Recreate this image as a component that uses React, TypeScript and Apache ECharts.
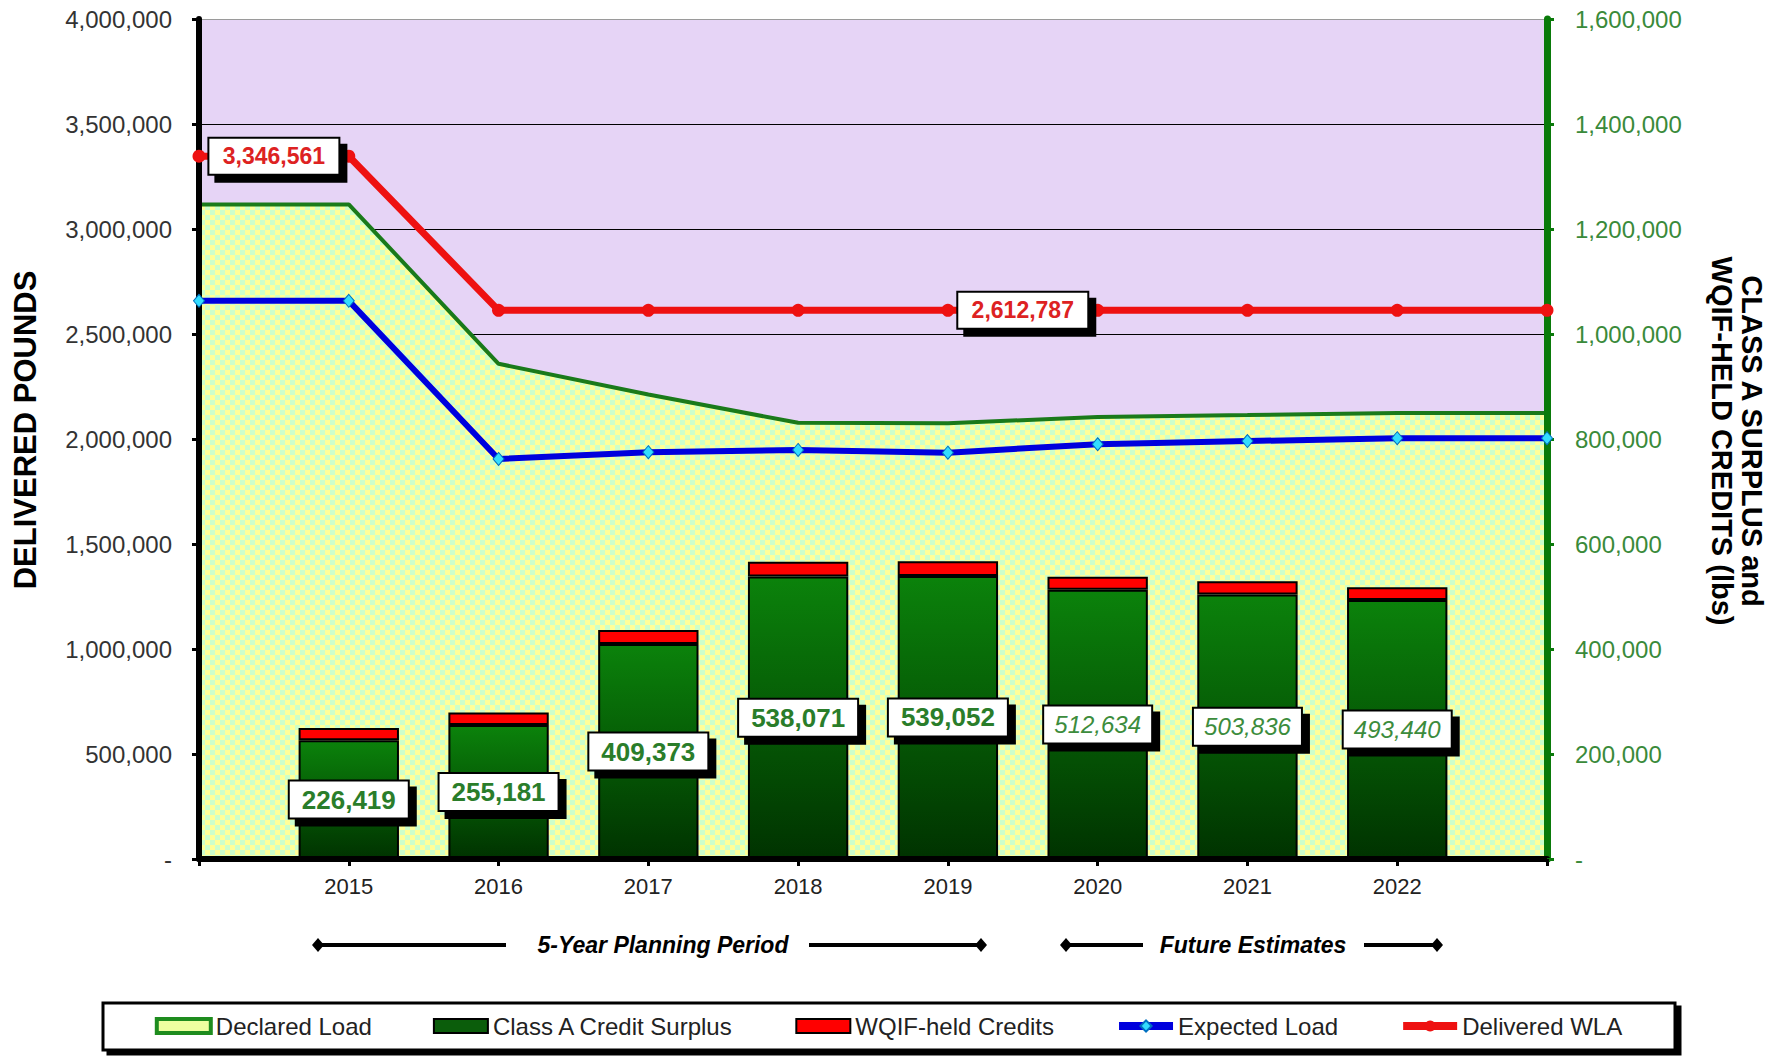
import React, { useEffect, useRef } from 'react';
import * as echarts from 'echarts';

// ---- data ----
const categories = ['', '2015', '2016', '2017', '2018', '2019', '2020', '2021', '2022', ''];
const declaredLoad = [3117000, 3117000, 2358000, 2212000, 2077000, 2075000, 2105000, 2114000, 2124000, 2124000];
const expectedLoad = [2658000, 2658000, 1905000, 1937000, 1948000, 1935000, 1975000, 1990000, 2004000, 2004000];
const deliveredWLA = [3346561, 3346561, 2612787, 2612787, 2612787, 2612787, 2612787, 2612787, 2612787, 2612787];
const classASurplus = [null, 226419, 255181, 409373, 538071, 539052, 512634, 503836, 493440, null];
const wqifCredits = [null, 23000, 24000, 27000, 28000, 28000, 25000, 25000, 24000, null];
const futureYears = ['2020', '2021', '2022'];
// WLA value labels sit mid-way along these line segments (pairs of point indices)
const wlaLabelSegments = [[0, 1], [5, 6]];
const leftMax = 4000000;
const leftInterval = 500000;
const rightMax = 1600000;
const rightInterval = 200000;
const legendNames = ['Declared Load', 'Class A Credit Surplus', 'WQIF-held Credits', 'Expected Load', 'Delivered WLA'];

const FONT = '"Liberation Sans", Arial, Helvetica, sans-serif';

const fmt = (v: number) => (v === 0 ? '-' : Math.round(v).toLocaleString('en-US'));

type BoxStyle = {
  fontStyle: string;
  fontWeight: string;
  fontSize: number;
  color: string;
  padX: number;
  padY: number;
};
type BoxItem = { x: number; y: number; text: string; style: BoxStyle };

let measureCtx: CanvasRenderingContext2D | null = null;
function measure(text: string, s: BoxStyle) {
  if (!measureCtx) measureCtx = document.createElement('canvas').getContext('2d');
  measureCtx!.font = `${s.fontStyle} ${s.fontWeight} ${s.fontSize}px ${FONT}`;
  return Math.ceil(measureCtx!.measureText(text).width);
}

// a white boxed label with a solid black drop shadow: a blank black box under the text box
function boxedLabelSeries(yAxisIndex: number, items: BoxItem[], z: number) {
  const common = {
    type: 'scatter',
    xAxisIndex: 1,
    yAxisIndex,
    silent: true,
    symbolSize: 1,
    itemStyle: { color: 'rgba(0,0,0,0)', opacity: 1 },
  };
  const lab = (it: BoxItem) => {
    const w = measure(it.text, it.style);
    const lh = it.style.fontSize + 2;
    return {
      show: true,
      position: 'inside',
      fontFamily: FONT,
      fontStyle: it.style.fontStyle,
      fontWeight: it.style.fontWeight,
      fontSize: it.style.fontSize,
      lineHeight: lh,
      width: w,
      height: lh,
      align: 'center',
      padding: [it.style.padY + 1, it.style.padX, it.style.padY - 1, it.style.padX],
      borderColor: '#000',
      borderWidth: 2,
      opacity: 1,
    };
  };
  return [
    {
      ...common,
      z,
      label: { show: true, position: 'inside', formatter: ' ' },
      data: items.map((it) => ({
        value: [it.x, it.y],
        label: { ...lab(it), formatter: ' ', backgroundColor: '#000', offset: [7, 7] },
      })),
    },
    {
      ...common,
      z: z + 1,
      label: { show: true, position: 'inside', formatter: '{b}' },
      data: items.map((it) => ({
        value: [it.x, it.y],
        name: it.text,
        label: { ...lab(it), formatter: '{b}', color: it.style.color, backgroundColor: '#fff' },
      })),
    },
  ];
}

export default function App() {
  const ref = useRef<HTMLDivElement>(null);

  useEffect(() => {
    document.body.style.margin = '0';
    if (!ref.current) return;
    const chart = echarts.init(ref.current, undefined, { renderer: 'svg' });

    // checker pattern for declared load area
    const c = document.createElement('canvas');
    c.width = 10;
    c.height = 10;
    const ctx = c.getContext('2d')!;
    ctx.fillStyle = '#FFFF99';
    ctx.fillRect(0, 0, 10, 10);
    ctx.fillStyle = '#CCFFCC';
    ctx.fillRect(0, 0, 5, 5);
    ctx.fillRect(5, 5, 5, 5);
    const patternUrl = c.toDataURL();

    const barLabelItems: BoxItem[] = [];
    classASurplus.forEach((v, i) => {
      if (v == null) return;
      const future = futureYears.includes(categories[i]);
      barLabelItems.push({
        x: i,
        y: v / 2,
        text: fmt(v),
        style: future
          ? { fontStyle: 'italic', fontWeight: 'normal', color: '#3C8C3C', fontSize: 24, padX: 10, padY: 5 }
          : { fontStyle: 'normal', fontWeight: 'bold', color: '#2A7D2A', fontSize: 26, padX: 12, padY: 4 },
      });
    });

    const wlaItems: BoxItem[] = wlaLabelSegments.map(([a, b]) => ({
      x: (a + b) / 2,
      y: deliveredWLA[a],
      text: fmt(deliveredWLA[a]),
      style: { fontStyle: 'normal', fontWeight: 'bold', color: '#DD2222', fontSize: 23, padX: 13, padY: 5 },
    }));

    const splitColors = Array.from({ length: leftMax / leftInterval + 1 }, (_, i) =>
      i === leftMax / leftInterval ? '#9a9a9a' : '#000000'
    );

    const diamond = (x: number, y: number) => ({
      type: 'polygon',
      shape: { points: [[x - 6, y], [x, y - 7], [x + 6, y], [x, y + 7]] },
      style: { fill: '#000' },
    });
    const seg = (x1: number, x2: number, y: number) => ({
      type: 'line',
      shape: { x1, y1: y, x2, y2: y },
      style: { stroke: '#000', lineWidth: 4 },
    });
    const annY = 945;
    const centeredText = (x: number, y: number, text: string, font: string, extra: any = {}) => ({
      type: 'text',
      x,
      y,
      ...extra,
      style: {
        text,
        fill: '#000',
        font,
        align: 'center',
        verticalAlign: 'middle',
        textAlign: 'center',
        textVerticalAlign: 'middle',
        ...(extra.style || {}),
      },
    });

    chart.setOption({
      animation: false,
      textStyle: { fontFamily: FONT },
      grid: {
        left: 199,
        right: 230,
        top: 19,
        bottom: 197,
        show: true,
        backgroundColor: '#E6D4F6',
        borderWidth: 0,
      },
      legend: {
        left: 'center',
        top: 1014,
        itemWidth: 54,
        itemHeight: 14,
        itemGap: 61,
        padding: 0,
        selectedMode: false,
        textStyle: { fontSize: 24, color: '#222', fontFamily: FONT },
        data: [
          { name: legendNames[0], icon: 'rect', itemStyle: { color: '#EEFFA0', borderColor: '#1E8C1E', borderWidth: 4 } },
          { name: legendNames[1], icon: 'rect', itemStyle: { color: '#0B5D0B', borderColor: '#000', borderWidth: 2 } },
          { name: legendNames[2], icon: 'rect', itemStyle: { color: '#FF0000', borderColor: '#000', borderWidth: 2 } },
          { name: legendNames[3], lineStyle: { width: 8 } },
          { name: legendNames[4], lineStyle: { width: 8 } },
        ],
      },
      xAxis: [
        {
          type: 'category',
          data: categories,
          boundaryGap: false,
          position: 'bottom',
          z: 5,
          axisLine: { show: true, onZero: false, lineStyle: { color: '#000', width: 6 } },
          axisTick: { show: true, interval: 0, length: 7, lineStyle: { color: '#000', width: 3 } },
          axisLabel: { interval: 0, margin: 16, fontSize: 22, color: '#222', fontFamily: FONT },
          splitLine: { show: false },
        },
        { type: 'value', min: 0, max: categories.length - 1, show: false },
      ],
      yAxis: [
        {
          type: 'value',
          min: 0,
          max: leftMax,
          interval: leftInterval,
          position: 'left',
          z: 5,
          axisLine: { show: true, lineStyle: { color: '#000', width: 6 } },
          axisTick: { show: true, length: 7, lineStyle: { color: '#000', width: 3 } },
          axisLabel: { margin: 27, fontSize: 24, color: '#333', fontFamily: FONT, formatter: fmt },
          splitLine: { show: false },
        },
        {
          type: 'value',
          min: 0,
          max: rightMax,
          interval: rightInterval,
          position: 'right',
          z: 5,
          axisLine: { show: true, lineStyle: { color: '#0A7A0A', width: 7 } },
          axisTick: { show: true, length: 7, lineStyle: { color: '#0A7A0A', width: 3 } },
          axisLabel: { margin: 28, fontSize: 24, color: '#3A8A3A', fontFamily: FONT, formatter: fmt },
          splitLine: { show: false },
        },
        {
          // gridlines only, drawn underneath the area fill
          type: 'value',
          min: 0,
          max: leftMax,
          interval: leftInterval,
          position: 'left',
          z: 0,
          axisLine: { show: false },
          axisTick: { show: false },
          axisLabel: { show: false },
          splitLine: { show: true, lineStyle: { color: splitColors, width: 1 } },
        },
      ],
      series: [
        {
          name: legendNames[0],
          type: 'line',
          z: 1,
          xAxisIndex: 0,
          yAxisIndex: 0,
          data: declaredLoad,
          symbol: 'none',
          lineStyle: { color: '#1A7A1A', width: 4 },
          itemStyle: { color: '#1A7A1A' },
          areaStyle: {
            opacity: 1,
            color: { image: patternUrl, repeat: 'repeat', imageWidth: 10, imageHeight: 10 },
          },
          silent: true,
        },
        {
          name: legendNames[1],
          type: 'bar',
          z: 2,
          xAxisIndex: 0,
          yAxisIndex: 1,
          stack: 'credits',
          barWidth: '67%',
          data: classASurplus,
          itemStyle: {
            color: new echarts.graphic.LinearGradient(0, 0, 0, 1, [
              { offset: 0, color: '#0B820B' },
              { offset: 1, color: '#003300' },
            ]),
            borderColor: '#000',
            borderWidth: 2,
          },
          silent: true,
        },
        {
          name: legendNames[2],
          type: 'bar',
          z: 2,
          xAxisIndex: 0,
          yAxisIndex: 1,
          stack: 'credits',
          barWidth: '67%',
          data: wqifCredits,
          itemStyle: { color: '#FF0000', borderColor: '#000', borderWidth: 2 },
          silent: true,
        },
        {
          name: legendNames[3],
          type: 'line',
          z: 6,
          xAxisIndex: 0,
          yAxisIndex: 0,
          data: expectedLoad,
          symbol: 'diamond',
          symbolSize: [11, 13],
          lineStyle: { color: '#0000DD', width: 6 },
          itemStyle: { color: '#33DDFF', borderColor: '#0070C0', borderWidth: 1 },
          silent: true,
        },
        {
          name: legendNames[4],
          type: 'line',
          z: 6,
          xAxisIndex: 0,
          yAxisIndex: 0,
          data: deliveredWLA,
          symbol: 'circle',
          symbolSize: 13,
          lineStyle: { color: '#EE1111', width: 7 },
          itemStyle: { color: '#EE1111' },
          silent: true,
        },
        ...boxedLabelSeries(1, barLabelItems, 7),
        ...boxedLabelSeries(0, wlaItems, 9),
      ],
      graphic: [
        centeredText(25, 430, 'DELIVERED POUNDS', `bold 31px ${FONT}`, { rotation: Math.PI / 2 }),
        {
          type: 'text',
          x: 1737,
          y: 441,
          rotation: -Math.PI / 2,
          style: {
            text: 'CLASS A SURPLUS and\nWQIF-HELD CREDITS (lbs)',
            fill: '#000',
            font: `bold 29px ${FONT}`,
            lineHeight: 30,
            align: 'center',
            verticalAlign: 'middle',
            textAlign: 'center',
            textVerticalAlign: 'middle',
          },
        },
        // period annotations
        seg(318, 506, annY),
        seg(809, 981, annY),
        diamond(318, annY),
        diamond(981, annY),
        centeredText(663, annY, '5-Year Planning Period', `italic bold 23px ${FONT}`),
        seg(1066, 1143, annY),
        seg(1364, 1437, annY),
        diamond(1066, annY),
        diamond(1437, annY),
        centeredText(1253, annY, 'Future Estimates', `italic bold 23px ${FONT}`),
        // legend frame
        {
          type: 'rect',
          z: -1,
          shape: { x: 103, y: 1003, width: 1572, height: 47 },
          style: {
            fill: '#fff',
            stroke: '#000',
            lineWidth: 3,
            shadowColor: '#000',
            shadowOffsetX: 5,
            shadowOffsetY: 4,
            shadowBlur: 0,
          },
        },
      ],
    });

    return () => chart.dispose();
  }, []);

  return <div ref={ref} style={{ width: 1777, height: 1056 }} />;
}
